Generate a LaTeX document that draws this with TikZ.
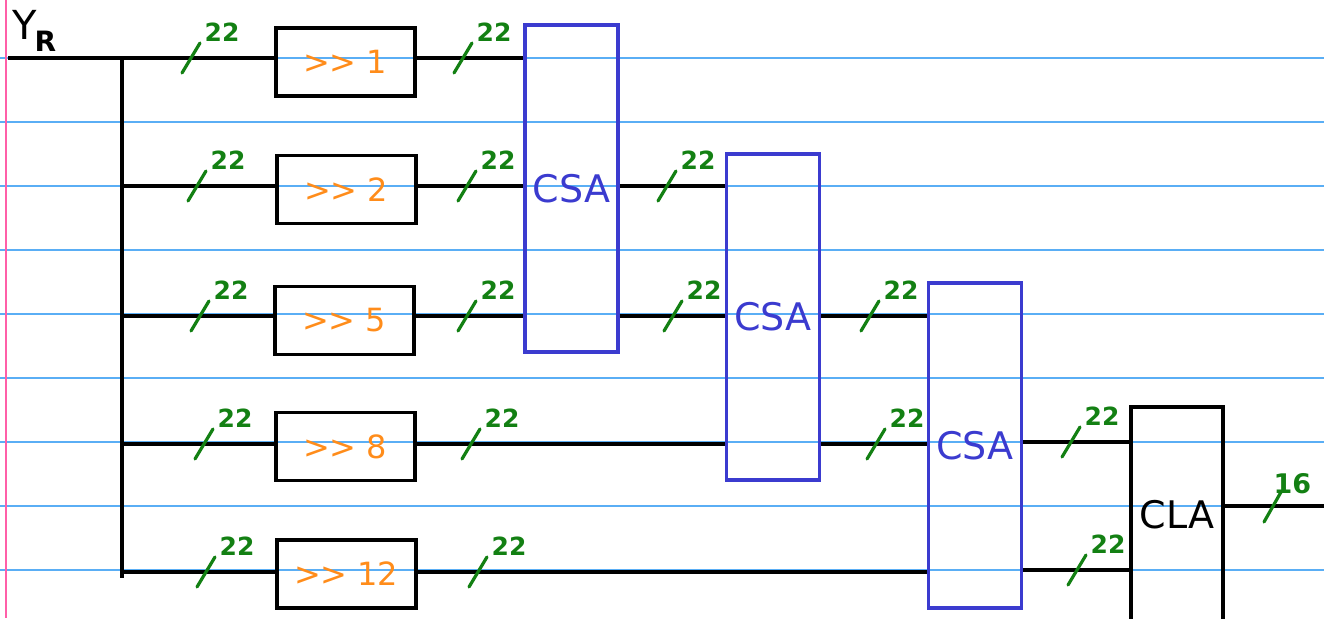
\documentclass[tikz,border=0pt]{standalone}
\usepackage{fontspec}
\setmainfont{DejaVu Sans}
\definecolor{rulecol}{HTML}{5AAEF5}
\definecolor{margincol}{HTML}{FF5FA8}
\definecolor{inkgreen}{HTML}{138013}
\definecolor{inkorange}{HTML}{FF8C1A}
\definecolor{inkblue}{HTML}{3B3BCF}
\newcommand\buswidth[3]{\draw[slashline] (#1-9,#2+15) -- (#1+9,#2-15) node[buslabel] {#3};}
\newcommand\shr{\textgreater\kern-1pt\textgreater}
\begin{document}
\begin{tikzpicture}[x=1pt,y=-1pt,
  wire/.style={line width=3.4pt},
  shbox/.style={draw, line width=3.4pt, minimum width=139pt, minimum height=68pt, inner sep=0pt, text=inkorange, font=\fontsize{32}{32}\selectfont},
  csabox/.style={draw=inkblue, line width=3.4pt, minimum width=93pt, inner sep=0pt, text=inkblue, font=\fontsize{38}{38}\selectfont},
  clabox/.style={draw, line width=3.4pt, minimum width=92pt, inner sep=0pt, font=\fontsize{38}{38}\selectfont},
  slashline/.style={draw=inkgreen, line width=3.2pt, line cap=round},
  buslabel/.style={anchor=south west, inner sep=0pt, xshift=3pt, text=inkgreen, font=\fontsize{25}{25}\selectfont\bfseries}]
\useasboundingbox (0,0) rectangle (1324,618);
% notebook paper
\foreach \yy in {58,122,...,570} \draw[rulecol, line width=1.4pt] (0,\yy) -- (1324,\yy);
\draw[margincol, line width=1.6pt] (6,0) -- (6,618);
% blocks
\node[shbox] (s1) at (345.5,62) {\shr\ 1};
\node[shbox] (s2) at (346.5,189.5) {\shr\ 2};
\node[shbox] (s3) at (344.5,320.5) {\shr\ 5};
\node[shbox] (s4) at (345.5,446.5) {\shr\ 8};
\node[shbox] (s5) at (346.5,574) {\shr\ 12};
\node[csabox, minimum height=327pt] (c1) at (571.5,188.5) {CSA};
\node[csabox, minimum height=326pt] (c2) at (773,317) {CSA};
\node[csabox, minimum height=325pt] (c3) at (975,445.5) {CSA};
\node[clabox, minimum height=215pt] (cla) at (1177,514.5) {CLA};
\node[anchor=south west, inner sep=0pt, font=\fontsize{40}{40}\selectfont] (yr) at (12,52) {Y\kern-2pt\textsubscript{\bfseries R}};
% coordinates
\coordinate (yin) at (8,58);
\coordinate (r1) at (122,58);
\coordinate (r2) at (122,186);
\coordinate (r3) at (122,316);
\coordinate (r4) at (122,444);
\coordinate (r5) at (122,572);
\coordinate (bb) at (122,578);
\coordinate (p1) at (1000,442);
\coordinate (p2) at (1000,570);
\coordinate (po) at (1250,506);
\coordinate (out) at (1324,506);
% wires
\draw[wire] (yin) -- (r1);
\draw[wire] (r1) -- (bb);
\draw[wire] (r1) -- (r1 -| s1.west);
\draw[wire] (r2) -- (r2 -| s2.west);
\draw[wire] (r3) -- (r3 -| s3.west);
\draw[wire] (r4) -- (r4 -| s4.west);
\draw[wire] (r5) -- (r5 -| s5.west);
\draw[wire] (s1.east |- r1) -- (r1 -| c1.west);
\draw[wire] (s2.east |- r2) -- (r2 -| c1.west);
\draw[wire] (s3.east |- r3) -- (r3 -| c1.west);
\draw[wire] (s4.east |- r4) -- (r4 -| c2.west);
\draw[wire] (s5.east |- r5) -- (r5 -| c3.west);
\draw[wire] (c1.east |- r2) -- (r2 -| c2.west);
\draw[wire] (c1.east |- r3) -- (r3 -| c2.west);
\draw[wire] (c2.east |- r3) -- (r3 -| c3.west);
\draw[wire] (c2.east |- r4) -- (r4 -| c3.west);
\draw[wire] (c3.east |- p1) -- (p1 -| cla.west);
\draw[wire] (c3.east |- p2) -- (p2 -| cla.west);
\draw[wire] (cla.east |- po) -- (out);
% bus widths
\buswidth{191}{58}{22}
\buswidth{463}{58}{22}
\buswidth{197}{186}{22}
\buswidth{467}{186}{22}
\buswidth{200}{316}{22}
\buswidth{467}{316}{22}
\buswidth{204}{444}{22}
\buswidth{471}{444}{22}
\buswidth{206}{572}{22}
\buswidth{478}{572}{22}
\buswidth{667}{186}{22}
\buswidth{673}{316}{22}
\buswidth{870}{316}{22}
\buswidth{876}{444}{22}
\buswidth{1071}{442}{22}
\buswidth{1077}{570}{22}
\draw[slashline] (1264,522) -- (1281,492) node[anchor=south west, inner sep=0pt, xshift=-9pt, yshift=-3pt, text=inkgreen, font=\fontsize{27}{27}\selectfont\bfseries] {16};
\end{tikzpicture}
\end{document}
